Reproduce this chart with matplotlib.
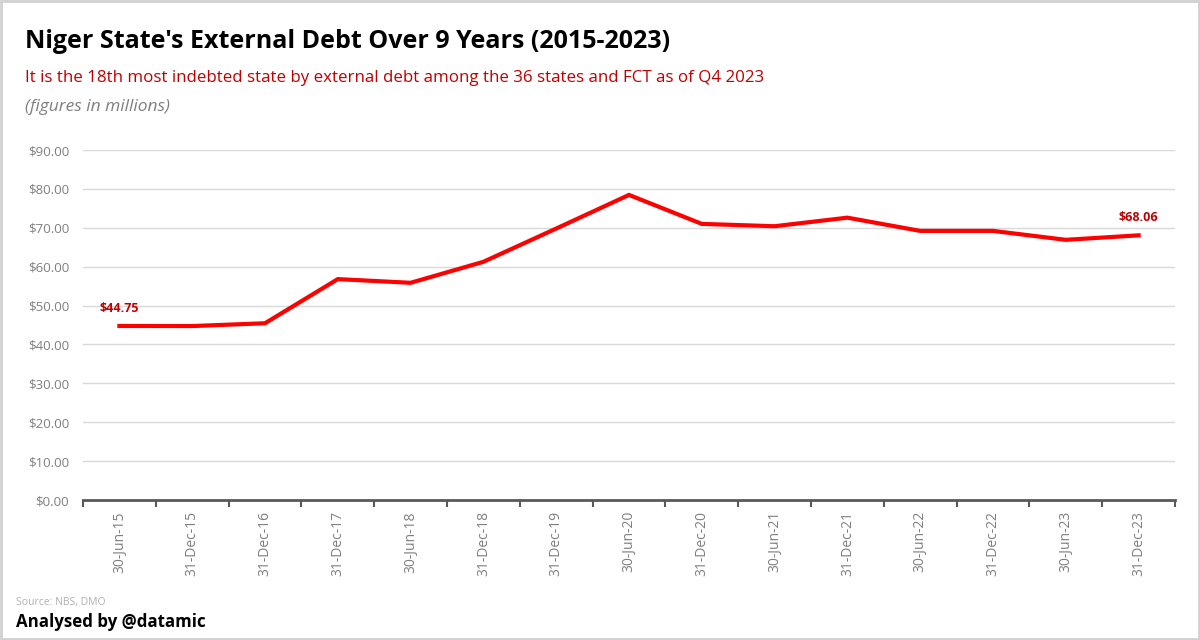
import numpy as np
import matplotlib
matplotlib.use("Agg")
import matplotlib.pyplot as plt
from matplotlib.patches import Rectangle
from matplotlib.ticker import FuncFormatter, MultipleLocator

# data (USD millions)
dates = ["30-Jun-15", "31-Dec-15", "31-Dec-16", "31-Dec-17", "30-Jun-18",
         "31-Dec-18", "31-Dec-19", "30-Jun-20", "31-Dec-20", "30-Jun-21",
         "31-Dec-21", "30-Jun-22", "31-Dec-22", "30-Jun-23", "31-Dec-23"]
debt = [44.75, 44.73, 45.45, 56.80, 55.85, 61.25, 69.80, 78.45, 71.00,
        70.40, 72.60, 69.20, 69.20, 66.90, 68.06]

RED = "#ff0000"
DARK_RED = "#c00000"
GREY = "#7f7f7f"

plt.rcParams["font.family"] = ["Open Sans", "DejaVu Sans"]

fig = plt.figure(figsize=(12, 6.4), dpi=100)
fig.patch.set_facecolor("white")
fig.patches.append(Rectangle((0.001, 0.002), 0.998, 0.996, transform=fig.transFigure,
                             fill=False, edgecolor="#d0d0d0", linewidth=2))

ax = fig.add_axes([83 / 1200, 140 / 640, 1092 / 1200, 350 / 640])
x = np.arange(len(dates))
ax.plot(x, debt, color=RED, linewidth=3, solid_joinstyle="miter")

ax.set_xlim(-0.5, len(dates) - 0.5)
ax.set_ylim(0, 90)
ax.yaxis.set_major_locator(MultipleLocator(10))
ax.yaxis.set_major_formatter(FuncFormatter(lambda v, _: f"${v:.2f}"))
ax.grid(axis="y", color="#d9d9d9", linewidth=1)
ax.set_axisbelow(True)

ax.set_xticks(x)
ax.set_xticklabels(dates, rotation=90, color=GREY, fontsize=10)
ax.set_xticks(np.arange(-0.5, len(dates)), minor=True)
ax.tick_params(axis="x", which="major", length=0, pad=8)
ax.tick_params(axis="x", which="minor", length=5, width=1.5, color="#595959")
ax.tick_params(axis="y", length=0, labelcolor=GREY, labelsize=9.5, pad=10)

for s in ["top", "right", "left"]:
    ax.spines[s].set_visible(False)
ax.spines["bottom"].set_color("#595959")
ax.spines["bottom"].set_linewidth(2)

# first and last value labels
ax.annotate(f"${debt[0]:.2f}", (x[0], debt[0]), xytext=(0, 8), textcoords="offset points",
            ha="center", va="bottom", color=DARK_RED, fontsize=9, fontweight="bold")
ax.annotate(f"${debt[-1]:.2f}", (x[-1], debt[-1]), xytext=(0, 8), textcoords="offset points",
            ha="center", va="bottom", color=DARK_RED, fontsize=9, fontweight="bold")

fig.text(25 / 1200, 1 - 42 / 640, "Niger State's External Debt Over 9 Years (2015-2023)",
         fontsize=18, fontweight="bold", va="center", ha="left")
fig.text(25 / 1200, 1 - 78 / 640,
         "It is the 18th most indebted state by external debt among the 36 states and FCT as of Q4 2023",
         fontsize=12.2, color=DARK_RED, va="center", ha="left")
fig.text(25 / 1200, 1 - 107 / 640, "(figures in millions)", fontsize=12.5, color=GREY,
         style="italic", va="center", ha="left")
fig.text(16 / 1200, 1 - 603 / 640, "Source: NBS, DMO", fontsize=7.5, color="#b0b0b0",
         va="center", ha="left")
fig.text(16 / 1200, 1 - 622 / 640, "Analysed by @datamic", fontsize=12.2, fontweight="bold",
         va="center", ha="left")

fig.savefig("out.png", dpi=100)
plt.close(fig)
